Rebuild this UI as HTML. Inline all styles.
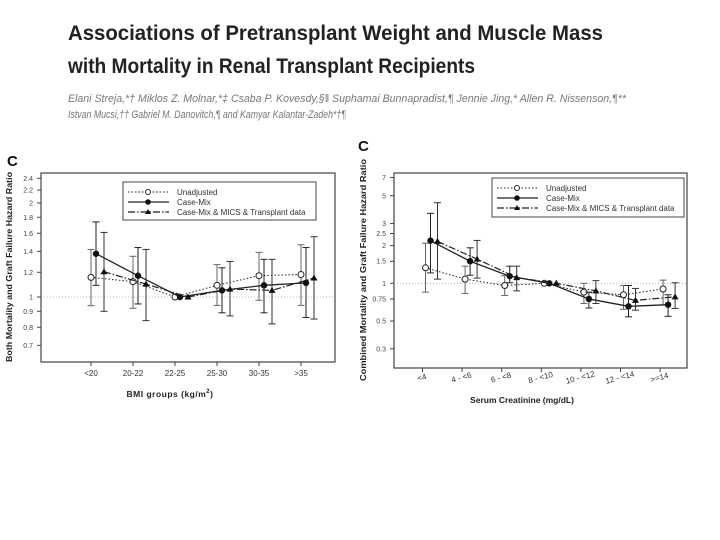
<!DOCTYPE html>
<html><head><meta charset="utf-8"><style>
html,body{margin:0;padding:0;background:#fff;}
svg{display:block;font-family:"Liberation Sans",Arial,sans-serif;}
</style></head><body>
<svg id="root" width="720" height="540" viewBox="0 0 720 540" xmlns="http://www.w3.org/2000/svg">
<g>
<text x="68" y="40" font-size="21" font-weight="bold" fill="#222" textLength="535" lengthAdjust="spacingAndGlyphs">Associations of Pretransplant Weight and Muscle Mass</text>
<text x="68" y="73" font-size="21" font-weight="bold" fill="#222" textLength="407" lengthAdjust="spacingAndGlyphs">with Mortality in Renal Transplant Recipients</text>
<text x="68" y="102" font-size="11" font-style="italic" fill="#777" textLength="558" lengthAdjust="spacingAndGlyphs">Elani Streja,*† Miklos Z. Molnar,*‡ Csaba P. Kovesdy,§‖ Suphamai Bunnapradist,¶ Jennie Jing,* Allen R. Nissenson,¶** </text>
<text x="68" y="118" font-size="11" font-style="italic" fill="#777" textLength="278" lengthAdjust="spacingAndGlyphs">Istvan Mucsi,†† Gabriel M. Danovitch,¶ and Kamyar Kalantar-Zadeh*†¶</text>
</g>
<g id="left"></g>
<g id="right"></g>
</svg>
<script>
// ---- Left chart data (BMI groups) ----
const bmiCategories = ["<20","20-22","22-25","25-30","30-35",">35"];
const bmiUnadj = [1.156,1.12,1.0,1.09,1.17,1.18];
const bmiUnadjLo = [0.938,0.92,1.0,0.94,0.976,0.94];
const bmiUnadjHi = [1.42,1.35,1.0,1.27,1.39,1.47];
const bmiCase = [1.376,1.17,1.0,1.05,1.09,1.11];
const bmiCaseLo = [1.09,0.95,1.0,0.89,0.89,0.86];
const bmiCaseHi = [1.74,1.44,1.0,1.24,1.32,1.44];
const bmiFull = [1.205,1.10,1.0,1.06,1.05,1.15];
const bmiFullLo = [0.9,0.84,1.0,0.87,0.82,0.85];
const bmiFullHi = [1.61,1.42,1.0,1.3,1.32,1.56];
const bmiTicks = [2.4,2.2,2,1.8,1.6,1.4,1.2,1,0.9,0.8,0.7];
const bmiTickLabels = ["2.4","2.2","2","1.8","1.6","1.4","1.2","1","0.9","0.8","0.7"];
// ---- Right chart data (serum creatinine) ----
const crCategories = ["<4","4 - <6","6 - <8","8 - <10","10 - <12","12 - <14",">=14"];
const crUnadj = [1.33,1.08,0.96,1.0,0.85,0.81,0.90];
const crUnadjLo = [0.85,0.83,0.80,1.0,0.69,0.62,0.67];
const crUnadjHi = [2.09,1.37,1.15,1.0,1.0,0.96,1.06];
const crCase = [2.19,1.5,1.14,1.0,0.75,0.655,0.675];
const crCaseLo = [1.21,1.16,1.01,1.0,0.635,0.54,0.545];
const crCaseHi = [3.62,1.92,1.37,1.0,0.85,0.96,0.81];
const crFull = [2.16,1.56,1.11,1.0,0.87,0.73,0.78];
const crFullLo = [1.08,1.1,0.87,1.0,0.69,0.61,0.63];
const crFullHi = [4.4,2.2,1.37,1.0,1.05,0.91,1.01];
const crTicks = [7,5,3,2.5,2,1.5,1,0.75,0.5,0.3];
const crTickLabels = ["7","5","3","2.5","2","1.5","1","0.75","0.5","0.3"];

const NS="http://www.w3.org/2000/svg";
function mk(parent,tag,attrs,text){const e=document.createElementNS(NS,tag);for(const k in attrs)e.setAttribute(k,attrs[k]);if(text!==undefined)e.textContent=text;parent.appendChild(e);return e;}

function drawChart(g,cfg){
  const L=cfg.left,R=cfg.right,T=cfg.top,B=cfg.bottom;
  const y=v=>cfg.y1-Math.log2(v)*cfg.ppl;
  const x=i=>cfg.x0+i*cfg.step;
  const frame=mk(g,'rect',{x:L,y:T,width:R-L,height:B-T,fill:'none',stroke:'#444','stroke-width':1.2});
  
  
  const ref=mk(g,'line',{x1:L,x2:R,y1:y(1),y2:y(1),stroke:'#aaa','stroke-width':0.8,'stroke-dasharray':'1,2'});
  
  
  cfg.ticks.forEach((t,i)=>{
    mk(g,'line',{x1:L-4,x2:L,y1:y(t),y2:y(t),stroke:'#444'});
    const lb=mk(g,'text',{x:L-8,y:y(t)+2.5,'font-size':7,'text-anchor':'end',fill:'#444'},cfg.tickLabels[i]);
    
    
  });
  cfg.cats.forEach((c,i)=>{
    const cx=x(i)+cfg.labelShift;
    mk(g,'line',{x1:cx,x2:cx,y1:B,y2:B+4,stroke:'#444'});
    const lb=mk(g,'text',{x:cx,y:B+cfg.labelDy,'font-size':cfg.xfs,'text-anchor':'middle',fill:'#333',transform:cfg.rot?`rotate(${cfg.rot} ${cx} ${B+cfg.labelDy})`:''},c);
    
    
  });
  const series=[
    {v:cfg.s1,lo:cfg.s1lo,hi:cfg.s1hi,off:0,dash:'1.5,2',w:1,ecol:'#666',mark:'open',name:'unadjusted'},
    {v:cfg.s2,lo:cfg.s2lo,hi:cfg.s2hi,off:cfg.off2,dash:'',w:1.3,ecol:'#222',mark:'dot',name:'case-mix'},
    {v:cfg.s3,lo:cfg.s3lo,hi:cfg.s3hi,off:cfg.off3,dash:'7,2,1.5,2',w:1.2,ecol:'#333',mark:'tri',name:'case-mix-mics-transplant'}];
  series.forEach(s=>{
    const sg=mk(g,'g',{});
    
    
    s.v.forEach((v,i)=>{
      if(s.lo[i]===s.hi[i])return;
      const px=x(i)+s.off;
      mk(sg,'line',{x1:px,x2:px,y1:y(s.lo[i]),y2:y(s.hi[i]),stroke:s.ecol,'stroke-width':1});
      mk(sg,'line',{x1:px-3.5,x2:px+3.5,y1:y(s.lo[i]),y2:y(s.lo[i]),stroke:s.ecol,'stroke-width':1});
      mk(sg,'line',{x1:px-3.5,x2:px+3.5,y1:y(s.hi[i]),y2:y(s.hi[i]),stroke:s.ecol,'stroke-width':1});
    });
    const pts=s.v.map((v,i)=>(x(i)+s.off)+','+y(v)).join(' ');
    mk(sg,'polyline',{points:pts,fill:'none',stroke:'#222','stroke-width':s.w,'stroke-dasharray':s.dash});
    s.v.forEach((v,i)=>{
      const px=x(i)+s.off,py=y(v);
      let m;
      if(s.mark==='open')m=mk(sg,'circle',{cx:px,cy:py,r:3,fill:'#fff',stroke:'#222'});
      else if(s.mark==='dot')m=mk(sg,'circle',{cx:px,cy:py,r:3.2,fill:'#111'});
      else m=mk(sg,'polygon',{points:`${px},${py-3.5} ${px-3.5},${py+2.5} ${px+3.5},${py+2.5}`,fill:'#111'});
      
      
    });
  });
  // legend
  const lg=mk(g,'g',{});
  
  
  const lx=cfg.lx,ly=cfg.ly;
  mk(lg,'rect',{x:lx,y:ly,width:cfg.lw,height:cfg.lh,fill:'#fff',stroke:'#444'});
  const names=['Unadjusted','Case-Mix','Case-Mix & MICS & Transplant data'];
  series.forEach((s,i)=>{
    const yy=ly+10+i*10;
    mk(lg,'line',{x1:lx+5,x2:lx+46,y1:yy,y2:yy,stroke:'#222','stroke-width':s.w,'stroke-dasharray':s.dash});
    const mx=lx+25;
    if(s.mark==='open')mk(lg,'circle',{cx:mx,cy:yy,r:2.5,fill:'#fff',stroke:'#222'});
    else if(s.mark==='dot')mk(lg,'circle',{cx:mx,cy:yy,r:2.8,fill:'#111'});
    else mk(lg,'polygon',{points:`${mx},${yy-3} ${mx-3},${yy+2} ${mx+3},${yy+2}`,fill:'#111'});
    const t=mk(lg,'text',{x:lx+cfg.ltx,y:yy+3,'font-size':8,fill:'#333'},names[i]);
    
    
  });
  const c=mk(g,'text',{x:cfg.cx,y:cfg.cy,'font-size':15,'font-weight':'bold',fill:'#111'},'C');
  
  
  const yt=mk(g,'text',{x:cfg.ytx,y:cfg.yty,'font-size':8.5,'font-weight':'bold',fill:'#222','text-anchor':'middle',transform:`rotate(-90 ${cfg.ytx} ${cfg.yty})`,textLength:cfg.ytl,lengthAdjust:'spacingAndGlyphs'},cfg.ytitle);
  
  
}

drawChart(document.getElementById('left'),{left:41,right:335,top:173,bottom:362,y1:297,ppl:94,x0:91,step:42,labelShift:0,labelDy:14,xfs:8,rot:0,
  cats:bmiCategories,ticks:bmiTicks,tickLabels:bmiTickLabels,
  s1:bmiUnadj,s1lo:bmiUnadjLo,s1hi:bmiUnadjHi,s2:bmiCase,s2lo:bmiCaseLo,s2hi:bmiCaseHi,s3:bmiFull,s3lo:bmiFullLo,s3hi:bmiFullHi,
  off2:5,off3:13,lx:123,ly:182,lw:193,lh:38,ltx:54,cx:7,cy:166,ytx:12,yty:267,ytl:190,ytitle:'Both Mortality and Graft Failure Hazard Ratio'});
drawChart(document.getElementById('right'),{left:394,right:687,top:173,bottom:368,y1:283.3,ppl:37.7,x0:425.5,step:39.6,labelShift:-3,labelDy:12,xfs:8,rot:-15,
  cats:crCategories,ticks:crTicks,tickLabels:crTickLabels,
  s1:crUnadj,s1lo:crUnadjLo,s1hi:crUnadjHi,s2:crCase,s2lo:crCaseLo,s2hi:crCaseHi,s3:crFull,s3lo:crFullLo,s3hi:crFullHi,
  off2:5,off3:12,lx:492,ly:178,lw:192,lh:39,ltx:54,cx:358,cy:151,ytx:366,yty:270,ytl:222,ytitle:'Combined Mortality and Graft Failure Hazard Ratio'});

const root=document.getElementById('root');
const t1=mk(root,'text',{x:170,y:397,'font-size':8.5,'font-weight':'bold',fill:'#222','text-anchor':'middle','letter-spacing':'0.5'});


t1.textContent='BMI groups  (kg/m';
mk(t1,'tspan',{dy:-4,'font-size':6},'2');
mk(t1,'tspan',{dy:4},')');
const t2=mk(root,'text',{x:522,y:403,'font-size':8.5,'font-weight':'bold',fill:'#222','text-anchor':'middle'},'Serum Creatinine (mg/dL)');


</script>
</body></html>
